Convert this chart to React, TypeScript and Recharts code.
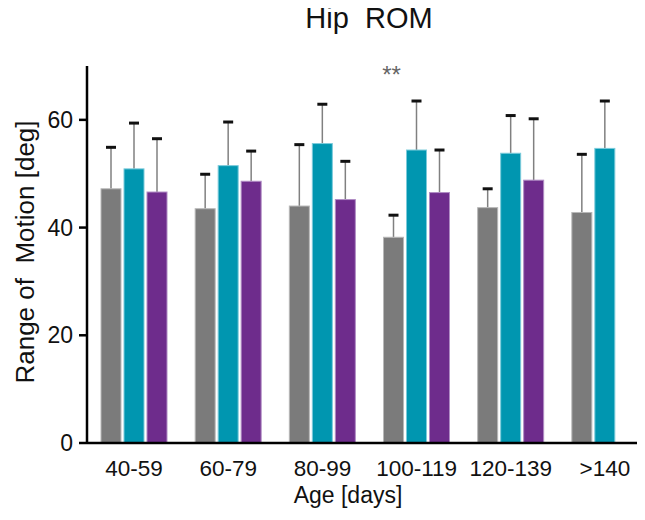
import { Bar, BarChart, ReferenceDot, XAxis, YAxis } from "recharts";

const ages = ["40-59", "60-79", "80-99", "100-119", "120-139", ">140"];
const yTicks = [0, 20, 40, 60];

// mean and upper SD of each group
const grayMean = [47.2, 43.5, 44.0, 38.2, 43.7, 42.8];
const graySd = [7.7, 6.4, 11.4, 4.1, 3.5, 10.8];
const tealMean = [50.9, 51.5, 55.6, 54.4, 53.8, 54.7];
const tealSd = [8.5, 8.1, 7.3, 9.1, 7.0, 8.8];
const purpleMean = [46.6, 48.6, 45.2, 46.5, 48.8, null];
const purpleSd = [9.9, 5.6, 7.1, 7.9, 11.4, null];

const data = ages.map((age, i) => ({
  age,
  gray: grayMean[i],
  graySd: graySd[i],
  teal: tealMean[i],
  tealSd: tealSd[i],
  purple: purpleMean[i],
  purpleSd: purpleSd[i],
}));

const font = "Arial, 'Liberation Sans', sans-serif";

// bar with a one-sided (upward) SD whisker
function barWithError(key: string, sdKey: string, edge: string) {
  return (props: any) => {
    const { x, y, width, height, fill, payload } = props;
    const val = payload[key];
    if (val == null) return null;
    const sd = payload[sdKey];
    const cx = x + width / 2;
    const top = y - (sd * height) / val;
    return (
      <g>
        <line x1={cx} x2={cx} y1={y} y2={top} stroke="#808080" strokeWidth={1.5} />
        <line x1={cx - 5} x2={cx + 5} y1={top} y2={top} stroke="#111" strokeWidth={3} />
        <rect x={x} y={y} width={width} height={height} fill={fill} stroke={edge} strokeWidth={1} />
      </g>
    );
  };
}

export default function App() {
  return (
    <div style={{ width: 645, height: 520, margin: "-8px 0 0 -8px", overflow: "hidden" }}>
      <BarChart
        width={652}
        height={520}
        data={data}
        margin={{ top: 66, right: 0, bottom: 0, left: 0 }}
        barSize={20}
        barGap={3}
        style={{ fontFamily: font }}
      >
        <XAxis
          dataKey="age"
          interval={0}
          tickLine={false}
          tickSize={0}
          tickMargin={17}
          height={77}
          axisLine={{ stroke: "#000", strokeWidth: 2.5 }}
          tick={{ fill: "#111", fontSize: 22.5, fontFamily: font }}
        />
        <YAxis
          domain={[0, 70]}
          ticks={yTicks}
          width={87}
          tickSize={8}
          tickMargin={6}
          axisLine={{ stroke: "#000", strokeWidth: 2.5 }}
          tickLine={{ stroke: "#000", strokeWidth: 2.5 }}
          tick={{ fill: "#111", fontSize: 23, fontFamily: font }}
        />
        <Bar dataKey="gray" name="Group 1" fill="#7b7b7b" isAnimationActive={false}
          shape={barWithError("gray", "graySd", "#b8b8b8")} />
        <Bar dataKey="teal" name="Group 2" fill="#0096b0" isAnimationActive={false}
          shape={barWithError("teal", "tealSd", "#7ccbdb")} />
        <Bar dataKey="purple" name="Group 3" fill="#6e2c8c" isAnimationActive={false}
          shape={barWithError("purple", "purpleSd", "#b08cc4")} />
        <ReferenceDot
          x="100-119"
          y={67}
          r={0}
          shape={(p: any) => (
            <text x={p.cx - 25} y={p.cy + 1} textAnchor="middle" fontSize={24} fill="#666" fontFamily={font}>
              **
            </text>
          )}
        />
        <text x={369} y={28} textAnchor="middle" fontSize={29} fill="#111" fontFamily={font} style={{ whiteSpace: "pre" }}>
          {"Hip  ROM"}
        </text>
        <text x={348} y={503} textAnchor="middle" fontSize={23} fill="#111" fontFamily={font}>
          Age [days]
        </text>
        <text
          x={0}
          y={0}
          transform="translate(34 252) rotate(-90)"
          textAnchor="middle"
          fontSize={26}
          fill="#111"
          fontFamily={font}
          style={{ whiteSpace: "pre" }}
        >
          {"Range of  Motion [deg]"}
        </text>
      </BarChart>
    </div>
  );
}
